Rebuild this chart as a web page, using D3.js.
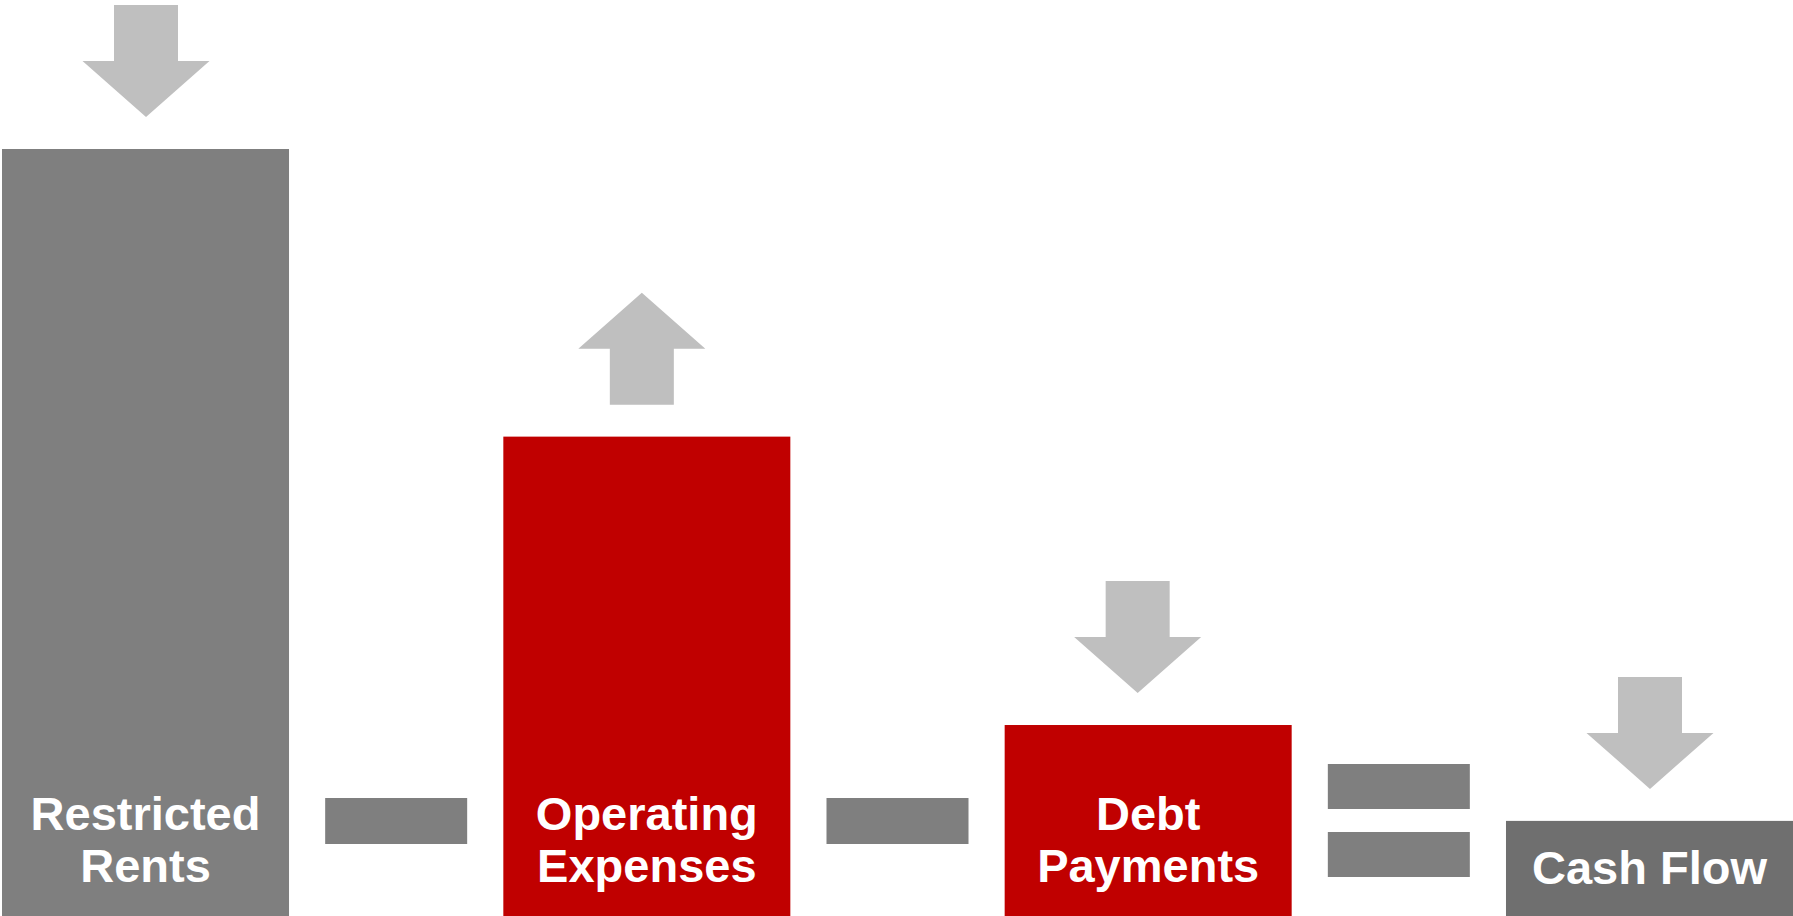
<!DOCTYPE html>
<html>
<head>
<meta charset="utf-8">
<script src="https://cdn.jsdelivr.net/npm/d3@7"></script>
<style>
    body { margin: 0; background: #fff; overflow: hidden; }
    text { font-family: "Liberation Sans", Arial, sans-serif; font-weight: bold; }
</style>
</head>
<body>
<script>
// data
const categories = ["Restricted Rents", "Operating Expenses", "Debt Payments", "Cash Flow"]
const labelLines = [["Restricted", "Rents"], ["Operating", "Expenses"], ["Debt", "Payments"], ["Cash Flow"]]
const values = [100, 62.5, 24.9, 12.4]
const directions = ["down", "up", "down", "down"]
const operators = ["minus", "minus", "equals"]

const width = 1793
const height = 916
const barColors = ["#7f7f7f", "#c00000", "#c00000", "#6f6f6f"]
// arrows are not quite centred on their bars in the original
const arrowShift = [0.5, -5, -10.5, 0.5]

const svg = d3.select("body")
    .append("svg")
    .attr("width", width)
    .attr("height", height)

const xScale = d3.scaleBand().domain(categories).range([2, 1793]).paddingInner(0.4275).paddingOuter(0)
const yScale = d3.scaleLinear().domain([0, 100]).range([height, 149])

const bw = xScale.bandwidth()

svg.selectAll("rect.bar")
    .data(values)
    .enter()
    .append("rect")
    .attr("class", "bar")
    .attr("x", (d, i) => xScale(categories[i]))
    .attr("y", d => yScale(d))
    .attr("width", bw)
    .attr("height", d => yScale(0) - yScale(d))
    .attr("fill", (d, i) => barColors[i])

// arrows above each bar
function arrowPath(cx, top, dir) {
    const sw = 32, hw = 63.5
    if (dir == "down") {
        return `M${cx - sw},${top - 144} L${cx + sw},${top - 144} L${cx + sw},${top - 88} L${cx + hw},${top - 88}
                L${cx},${top - 32} L${cx - hw},${top - 88} L${cx - sw},${top - 88} Z`
    }
    return `M${cx},${top - 144} L${cx + hw},${top - 88} L${cx + sw},${top - 88} L${cx + sw},${top - 32}
            L${cx - sw},${top - 32} L${cx - sw},${top - 88} L${cx - hw},${top - 88} Z`
}

svg.selectAll("path.arrow")
    .data(values)
    .enter()
    .append("path")
    .attr("class", "arrow")
    .attr("d", (d, i) => arrowPath(xScale(categories[i]) + bw / 2 + arrowShift[i], yScale(d), directions[i]))
    .attr("fill", "#bfbfbf")

// labels
labelLines.forEach((lines, i) => {
    const cx = xScale(categories[i]) + bw / 2
    const last = lines.length == 1 ? 884 : 882
    lines.forEach((line, j) => {
        svg.append("text")
            .attr("x", cx)
            .attr("y", last - (lines.length - 1 - j) * 52)
            .attr("text-anchor", "middle")
            .attr("fill", "#fff")
            .attr("font-size", 47)
            .text(line)
    })
})

// minus / equals signs between bars
operators.forEach((op, i) => {
    const left = xScale(categories[i]) + bw
    const right = xScale(categories[i + 1])
    const cx = (left + right) / 2
    const g = svg.append("g").attr("fill", "#7f7f7f")
    if (op == "minus") {
        g.append("rect").attr("x", cx - 71).attr("y", 798).attr("width", 142).attr("height", 46)
    } else {
        g.append("rect").attr("x", cx - 71).attr("y", 764).attr("width", 142).attr("height", 45)
        g.append("rect").attr("x", cx - 71).attr("y", 832).attr("width", 142).attr("height", 45)
    }
})
</script>
</body>
</html>
